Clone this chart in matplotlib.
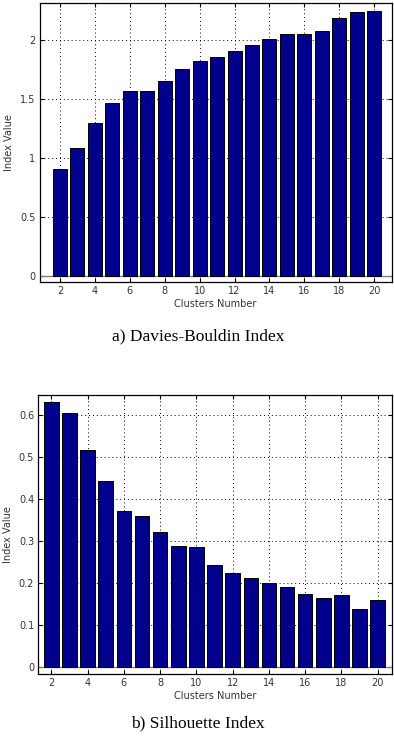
import matplotlib
matplotlib.use("Agg")
import matplotlib.pyplot as plt

clusters = list(range(2, 21))
db_values = [0.906, 1.082, 1.297, 1.465, 1.569, 1.569, 1.654, 1.756, 1.822, 1.858,
             1.909, 1.960, 2.008, 2.051, 2.051, 2.079, 2.190, 2.241, 2.249]
sil_values = [0.631, 0.604, 0.517, 0.443, 0.371, 0.360, 0.321, 0.288, 0.285, 0.242,
              0.224, 0.212, 0.201, 0.190, 0.174, 0.164, 0.171, 0.137, 0.159]
x_ticks = list(range(2, 21, 2))
db_yticks = [0, 0.5, 1, 1.5, 2]
db_ytick_labels = ["0", "0.5", "1", "1.5", "2"]
sil_yticks = [0, 0.1, 0.2, 0.3, 0.4, 0.5, 0.6]
sil_ytick_labels = ["0", "0.1", "0.2", "0.3", "0.4", "0.5", "0.6"]
xlabel = "Clusters Number"
ylabel = "Index Value"
cap_a = "a) Davies-Bouldin Index"
cap_b = "b) Silhouette Index"

fig = plt.figure(figsize=(3.94, 7.44), dpi=100)
fig.patch.set_facecolor("white")

BAR = "#00008C"
TXT = "#333333"


def style(ax, xlim, ylim, yticks, ylabels):
    ax.set_xlim(*xlim)
    ax.set_ylim(*ylim)
    ax.set_xticks(x_ticks)
    ax.set_xticklabels([str(t) for t in x_ticks])
    ax.set_yticks(yticks)
    ax.set_yticklabels(ylabels)
    ax.tick_params(direction="in", length=3, width=0.8, top=True, right=True,
                   labelsize=7, colors="black", labelcolor=TXT, pad=3)
    ax.grid(True, linestyle=(0, (1, 3)), color="black", linewidth=0.7)
    ax.set_axisbelow(True)
    for s in ax.spines.values():
        s.set_linewidth(0.9)
        s.set_color("black")
    ax.axhline(0, color="#808080", linewidth=1.0, zorder=1)
    ax.set_xlabel(xlabel, fontsize=7, color=TXT, labelpad=2)
    ax.set_ylabel(ylabel, fontsize=7, color=TXT, labelpad=4)


ax1 = fig.add_axes([0.1003, 0.621, 0.8937, 0.375])
ax1.bar(clusters, db_values, width=0.8, color=BAR, edgecolor="black", linewidth=0.7, zorder=2)
style(ax1, (0.83, 21.0), (-0.054, 2.317), db_yticks, db_ytick_labels)

ax2 = fig.add_axes([0.0972, 0.0937, 0.8968, 0.3753])
ax2.bar(clusters, sil_values, width=0.8, color=BAR, edgecolor="black", linewidth=0.7, zorder=2)
style(ax2, (1.28, 20.77), (-0.0175, 0.6476), sil_yticks, sil_ytick_labels)

fig.text(198 / 394, 1 - 336 / 744, cap_a, ha="center", va="center",
         fontsize=12.5, family="Liberation Serif", color="black")
fig.text(198 / 394, 1 - 723 / 744, cap_b, ha="center", va="center",
         fontsize=12.5, family="Liberation Serif", color="black")

fig.savefig("out.png", dpi=100)
